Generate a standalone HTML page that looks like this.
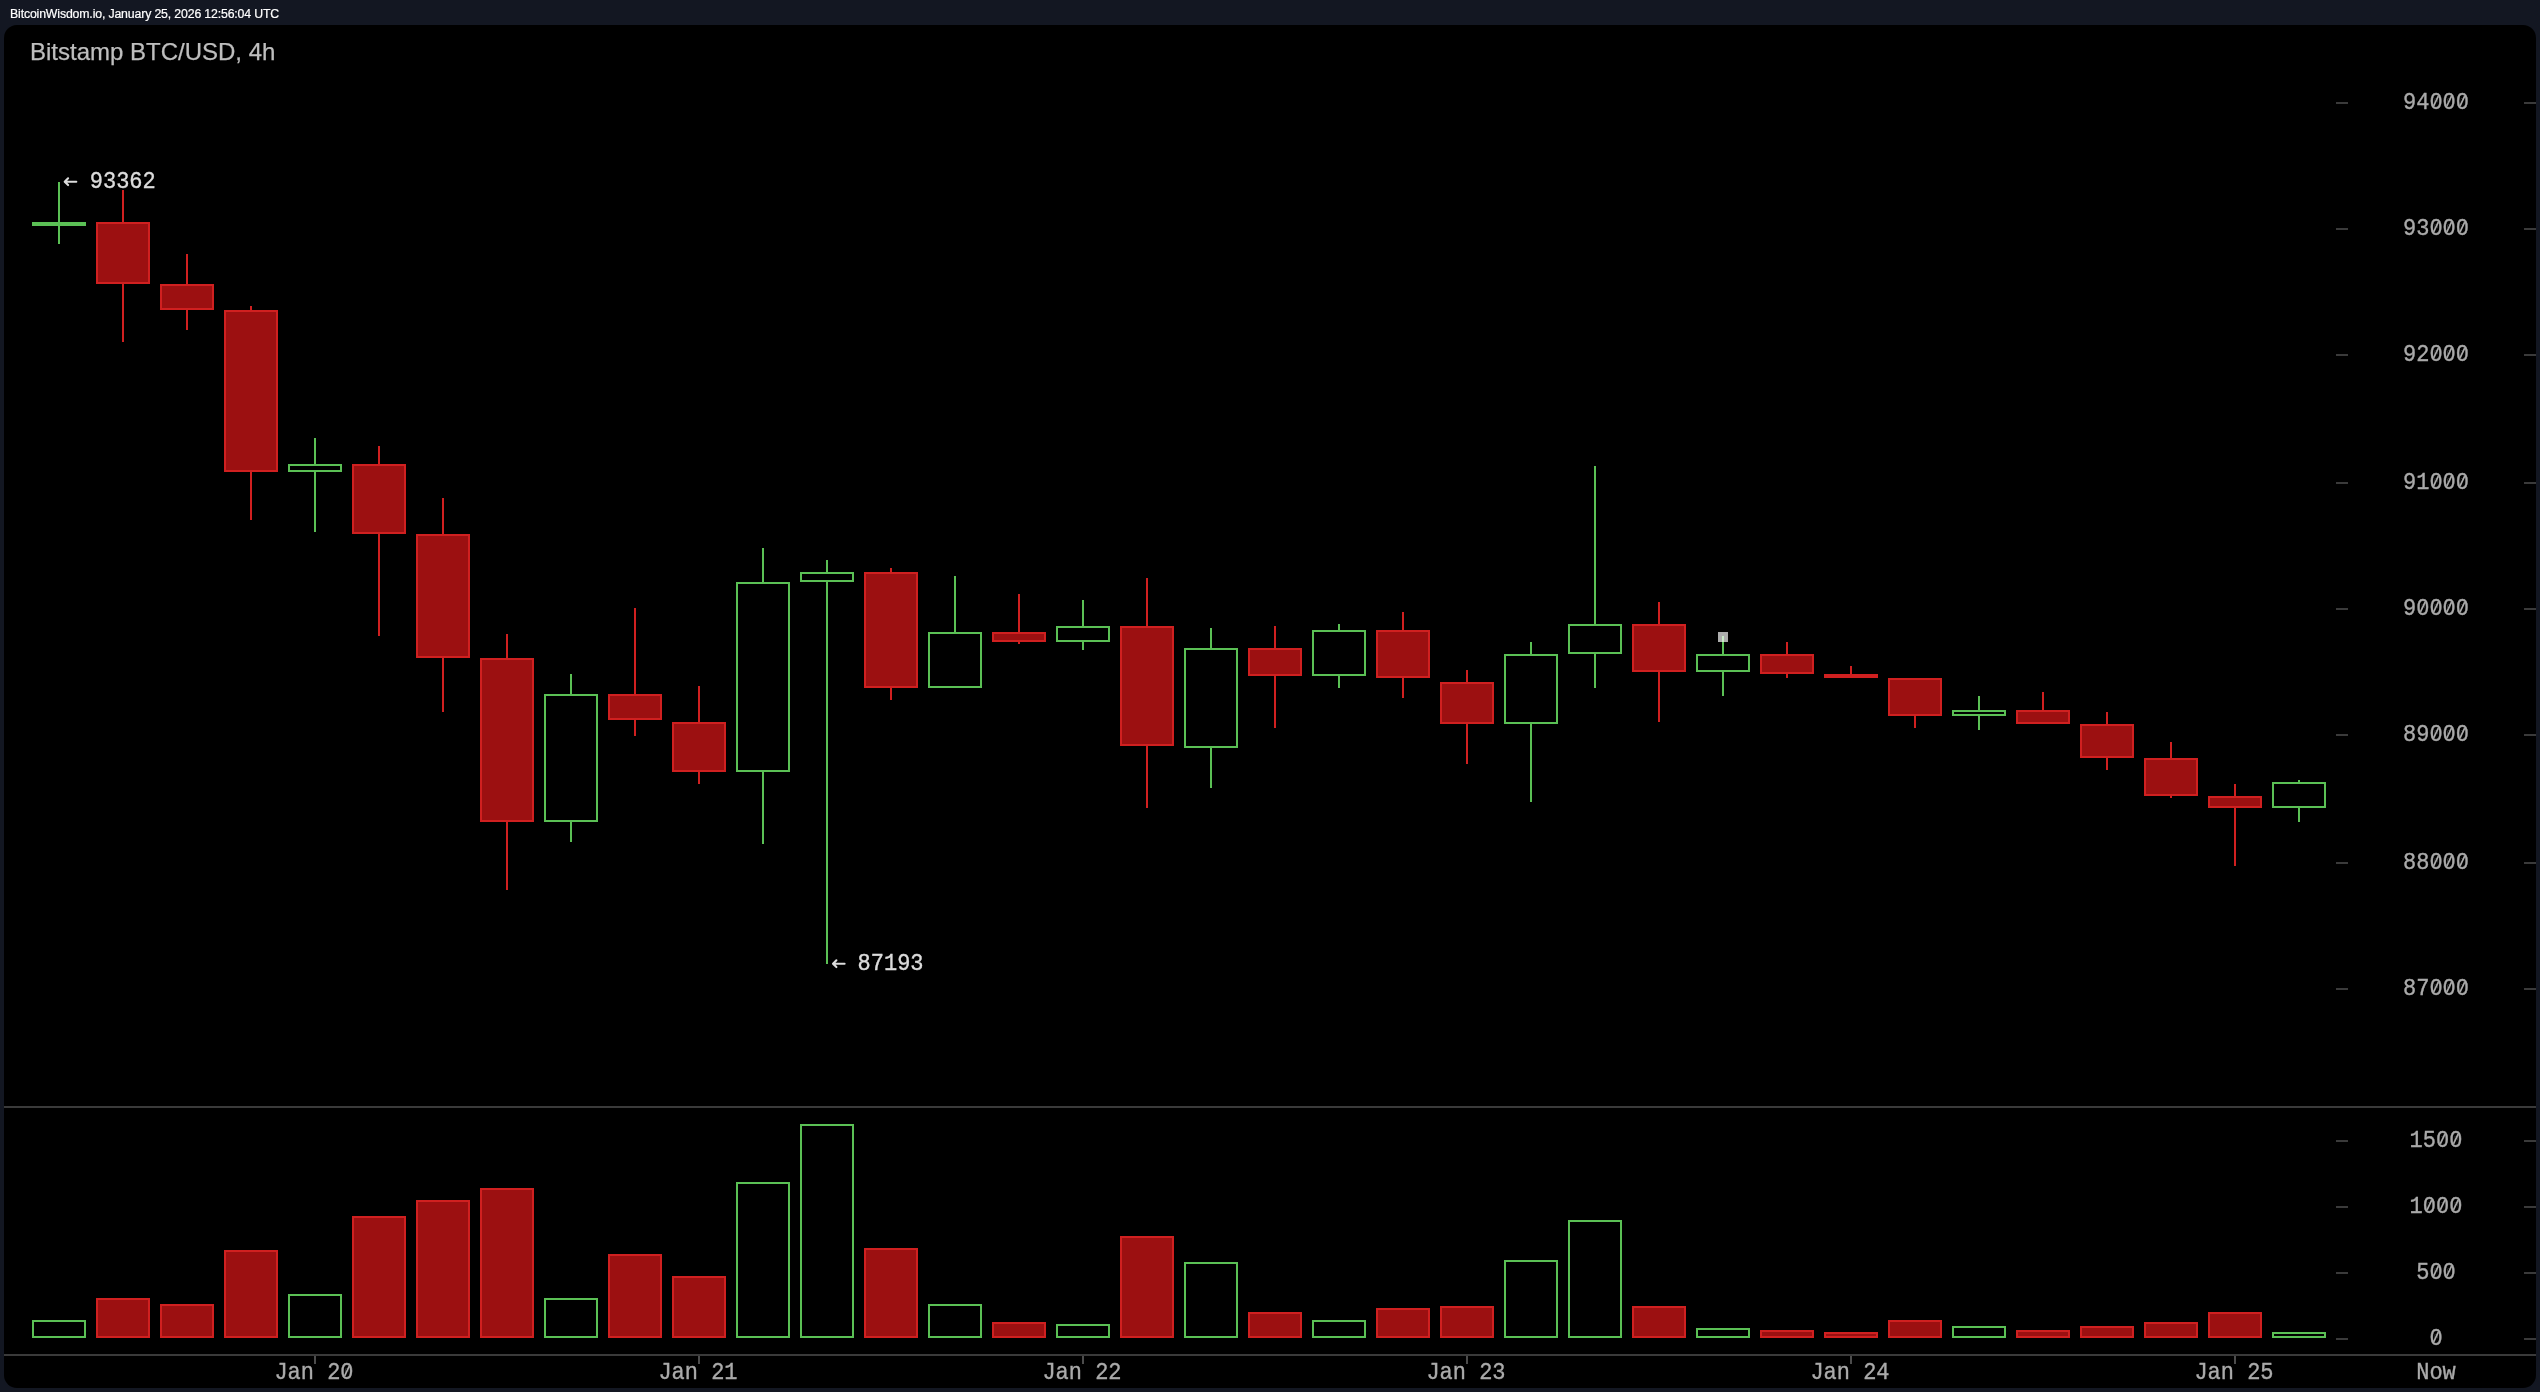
<!DOCTYPE html>
<html><head><meta charset="utf-8"><style>
html,body{margin:0;padding:0;}
body{width:2540px;height:1392px;background:#131722;position:relative;overflow:hidden;font-family:"Liberation Sans",sans-serif;}
#hd{position:absolute;left:10px;top:5.2px;font-size:12.3px;line-height:18px;color:#ffffff;white-space:nowrap;letter-spacing:-0.15px;will-change:transform;-webkit-text-stroke:0.2px #fff;}
#pn{position:absolute;left:4px;top:25px;width:2532px;height:1363px;background:#000000;border-radius:13px;}
svg{position:absolute;left:0;top:0;will-change:transform;}
.mono{font-family:"Liberation Mono",monospace;font-size:22.0px;}
.tt{font-family:"Liberation Sans",sans-serif;font-size:24px;}
</style></head><body>
<div id="hd">BitcoinWisdom.io, January 25, 2026 12:56:04 UTC</div>
<div id="pn"></div>
<svg width="2540" height="1392" viewBox="0 0 2540 1392">
<text x="30" y="60" class="tt" fill="#bebebe" stroke="#bebebe" stroke-width="0.25">Bitstamp BTC/USD, 4h</text>
<g shape-rendering="crispEdges">
<rect x="4" y="1106" width="2532" height="2" fill="#3a3a3a"/>
<rect x="4" y="1354" width="2532" height="2" fill="#3a3a3a"/>
<rect x="2336" y="102" width="12" height="2" fill="#3a3a3a"/><rect x="2524" y="102" width="12" height="2" fill="#3a3a3a"/><rect x="2336" y="228" width="12" height="2" fill="#3a3a3a"/><rect x="2524" y="228" width="12" height="2" fill="#3a3a3a"/><rect x="2336" y="354" width="12" height="2" fill="#3a3a3a"/><rect x="2524" y="354" width="12" height="2" fill="#3a3a3a"/><rect x="2336" y="482" width="12" height="2" fill="#3a3a3a"/><rect x="2524" y="482" width="12" height="2" fill="#3a3a3a"/><rect x="2336" y="608" width="12" height="2" fill="#3a3a3a"/><rect x="2524" y="608" width="12" height="2" fill="#3a3a3a"/><rect x="2336" y="734" width="12" height="2" fill="#3a3a3a"/><rect x="2524" y="734" width="12" height="2" fill="#3a3a3a"/><rect x="2336" y="862" width="12" height="2" fill="#3a3a3a"/><rect x="2524" y="862" width="12" height="2" fill="#3a3a3a"/><rect x="2336" y="988" width="12" height="2" fill="#3a3a3a"/><rect x="2524" y="988" width="12" height="2" fill="#3a3a3a"/><rect x="2336" y="1140" width="12" height="2" fill="#3a3a3a"/><rect x="2524" y="1140" width="12" height="2" fill="#3a3a3a"/><rect x="2336" y="1206" width="12" height="2" fill="#3a3a3a"/><rect x="2524" y="1206" width="12" height="2" fill="#3a3a3a"/><rect x="2336" y="1272" width="12" height="2" fill="#3a3a3a"/><rect x="2524" y="1272" width="12" height="2" fill="#3a3a3a"/><rect x="2336" y="1338" width="12" height="2" fill="#3a3a3a"/><rect x="2524" y="1338" width="12" height="2" fill="#3a3a3a"/>
<rect x="58" y="182" width="2" height="40" fill="#5bc055"/>
<rect x="58" y="226" width="2" height="18" fill="#5bc055"/>
<rect x="32" y="222" width="54" height="4" fill="#5bc055"/>
<rect x="32" y="1320" width="54" height="18" fill="#5bc055"/>
<rect x="34" y="1322" width="50" height="14" fill="#000000"/>
<rect x="122" y="190" width="2" height="32" fill="#d02020"/>
<rect x="122" y="284" width="2" height="58" fill="#d02020"/>
<rect x="96" y="222" width="54" height="62" fill="#d02020"/>
<rect x="98" y="224" width="50" height="58" fill="#9c1011"/>
<rect x="96" y="1298" width="54" height="40" fill="#d02020"/>
<rect x="98" y="1300" width="50" height="36" fill="#9c1011"/>
<rect x="186" y="254" width="2" height="30" fill="#d02020"/>
<rect x="186" y="310" width="2" height="20" fill="#d02020"/>
<rect x="160" y="284" width="54" height="26" fill="#d02020"/>
<rect x="162" y="286" width="50" height="22" fill="#9c1011"/>
<rect x="160" y="1304" width="54" height="34" fill="#d02020"/>
<rect x="162" y="1306" width="50" height="30" fill="#9c1011"/>
<rect x="250" y="306" width="2" height="4" fill="#d02020"/>
<rect x="250" y="472" width="2" height="48" fill="#d02020"/>
<rect x="224" y="310" width="54" height="162" fill="#d02020"/>
<rect x="226" y="312" width="50" height="158" fill="#9c1011"/>
<rect x="224" y="1250" width="54" height="88" fill="#d02020"/>
<rect x="226" y="1252" width="50" height="84" fill="#9c1011"/>
<rect x="314" y="438" width="2" height="26" fill="#5bc055"/>
<rect x="314" y="472" width="2" height="60" fill="#5bc055"/>
<rect x="288" y="464" width="54" height="8" fill="#5bc055"/>
<rect x="290" y="466" width="50" height="4" fill="#000000"/>
<rect x="288" y="1294" width="54" height="44" fill="#5bc055"/>
<rect x="290" y="1296" width="50" height="40" fill="#000000"/>
<rect x="378" y="446" width="2" height="18" fill="#d02020"/>
<rect x="378" y="534" width="2" height="102" fill="#d02020"/>
<rect x="352" y="464" width="54" height="70" fill="#d02020"/>
<rect x="354" y="466" width="50" height="66" fill="#9c1011"/>
<rect x="352" y="1216" width="54" height="122" fill="#d02020"/>
<rect x="354" y="1218" width="50" height="118" fill="#9c1011"/>
<rect x="442" y="498" width="2" height="36" fill="#d02020"/>
<rect x="442" y="658" width="2" height="54" fill="#d02020"/>
<rect x="416" y="534" width="54" height="124" fill="#d02020"/>
<rect x="418" y="536" width="50" height="120" fill="#9c1011"/>
<rect x="416" y="1200" width="54" height="138" fill="#d02020"/>
<rect x="418" y="1202" width="50" height="134" fill="#9c1011"/>
<rect x="506" y="634" width="2" height="24" fill="#d02020"/>
<rect x="506" y="822" width="2" height="68" fill="#d02020"/>
<rect x="480" y="658" width="54" height="164" fill="#d02020"/>
<rect x="482" y="660" width="50" height="160" fill="#9c1011"/>
<rect x="480" y="1188" width="54" height="150" fill="#d02020"/>
<rect x="482" y="1190" width="50" height="146" fill="#9c1011"/>
<rect x="570" y="674" width="2" height="20" fill="#5bc055"/>
<rect x="570" y="822" width="2" height="20" fill="#5bc055"/>
<rect x="544" y="694" width="54" height="128" fill="#5bc055"/>
<rect x="546" y="696" width="50" height="124" fill="#000000"/>
<rect x="544" y="1298" width="54" height="40" fill="#5bc055"/>
<rect x="546" y="1300" width="50" height="36" fill="#000000"/>
<rect x="634" y="608" width="2" height="86" fill="#d02020"/>
<rect x="634" y="720" width="2" height="16" fill="#d02020"/>
<rect x="608" y="694" width="54" height="26" fill="#d02020"/>
<rect x="610" y="696" width="50" height="22" fill="#9c1011"/>
<rect x="608" y="1254" width="54" height="84" fill="#d02020"/>
<rect x="610" y="1256" width="50" height="80" fill="#9c1011"/>
<rect x="698" y="686" width="2" height="36" fill="#d02020"/>
<rect x="698" y="772" width="2" height="12" fill="#d02020"/>
<rect x="672" y="722" width="54" height="50" fill="#d02020"/>
<rect x="674" y="724" width="50" height="46" fill="#9c1011"/>
<rect x="672" y="1276" width="54" height="62" fill="#d02020"/>
<rect x="674" y="1278" width="50" height="58" fill="#9c1011"/>
<rect x="762" y="548" width="2" height="34" fill="#5bc055"/>
<rect x="762" y="772" width="2" height="72" fill="#5bc055"/>
<rect x="736" y="582" width="54" height="190" fill="#5bc055"/>
<rect x="738" y="584" width="50" height="186" fill="#000000"/>
<rect x="736" y="1182" width="54" height="156" fill="#5bc055"/>
<rect x="738" y="1184" width="50" height="152" fill="#000000"/>
<rect x="826" y="560" width="2" height="12" fill="#5bc055"/>
<rect x="826" y="582" width="2" height="382" fill="#5bc055"/>
<rect x="800" y="572" width="54" height="10" fill="#5bc055"/>
<rect x="802" y="574" width="50" height="6" fill="#000000"/>
<rect x="800" y="1124" width="54" height="214" fill="#5bc055"/>
<rect x="802" y="1126" width="50" height="210" fill="#000000"/>
<rect x="890" y="568" width="2" height="4" fill="#d02020"/>
<rect x="890" y="688" width="2" height="12" fill="#d02020"/>
<rect x="864" y="572" width="54" height="116" fill="#d02020"/>
<rect x="866" y="574" width="50" height="112" fill="#9c1011"/>
<rect x="864" y="1248" width="54" height="90" fill="#d02020"/>
<rect x="866" y="1250" width="50" height="86" fill="#9c1011"/>
<rect x="954" y="576" width="2" height="56" fill="#5bc055"/>
<rect x="928" y="632" width="54" height="56" fill="#5bc055"/>
<rect x="930" y="634" width="50" height="52" fill="#000000"/>
<rect x="928" y="1304" width="54" height="34" fill="#5bc055"/>
<rect x="930" y="1306" width="50" height="30" fill="#000000"/>
<rect x="1018" y="594" width="2" height="38" fill="#d02020"/>
<rect x="1018" y="642" width="2" height="2" fill="#d02020"/>
<rect x="992" y="632" width="54" height="10" fill="#d02020"/>
<rect x="994" y="634" width="50" height="6" fill="#9c1011"/>
<rect x="992" y="1322" width="54" height="16" fill="#d02020"/>
<rect x="994" y="1324" width="50" height="12" fill="#9c1011"/>
<rect x="1082" y="600" width="2" height="26" fill="#5bc055"/>
<rect x="1082" y="642" width="2" height="8" fill="#5bc055"/>
<rect x="1056" y="626" width="54" height="16" fill="#5bc055"/>
<rect x="1058" y="628" width="50" height="12" fill="#000000"/>
<rect x="1056" y="1324" width="54" height="14" fill="#5bc055"/>
<rect x="1058" y="1326" width="50" height="10" fill="#000000"/>
<rect x="1146" y="578" width="2" height="48" fill="#d02020"/>
<rect x="1146" y="746" width="2" height="62" fill="#d02020"/>
<rect x="1120" y="626" width="54" height="120" fill="#d02020"/>
<rect x="1122" y="628" width="50" height="116" fill="#9c1011"/>
<rect x="1120" y="1236" width="54" height="102" fill="#d02020"/>
<rect x="1122" y="1238" width="50" height="98" fill="#9c1011"/>
<rect x="1210" y="628" width="2" height="20" fill="#5bc055"/>
<rect x="1210" y="748" width="2" height="40" fill="#5bc055"/>
<rect x="1184" y="648" width="54" height="100" fill="#5bc055"/>
<rect x="1186" y="650" width="50" height="96" fill="#000000"/>
<rect x="1184" y="1262" width="54" height="76" fill="#5bc055"/>
<rect x="1186" y="1264" width="50" height="72" fill="#000000"/>
<rect x="1274" y="626" width="2" height="22" fill="#d02020"/>
<rect x="1274" y="676" width="2" height="52" fill="#d02020"/>
<rect x="1248" y="648" width="54" height="28" fill="#d02020"/>
<rect x="1250" y="650" width="50" height="24" fill="#9c1011"/>
<rect x="1248" y="1312" width="54" height="26" fill="#d02020"/>
<rect x="1250" y="1314" width="50" height="22" fill="#9c1011"/>
<rect x="1338" y="624" width="2" height="6" fill="#5bc055"/>
<rect x="1338" y="676" width="2" height="12" fill="#5bc055"/>
<rect x="1312" y="630" width="54" height="46" fill="#5bc055"/>
<rect x="1314" y="632" width="50" height="42" fill="#000000"/>
<rect x="1312" y="1320" width="54" height="18" fill="#5bc055"/>
<rect x="1314" y="1322" width="50" height="14" fill="#000000"/>
<rect x="1402" y="612" width="2" height="18" fill="#d02020"/>
<rect x="1402" y="678" width="2" height="20" fill="#d02020"/>
<rect x="1376" y="630" width="54" height="48" fill="#d02020"/>
<rect x="1378" y="632" width="50" height="44" fill="#9c1011"/>
<rect x="1376" y="1308" width="54" height="30" fill="#d02020"/>
<rect x="1378" y="1310" width="50" height="26" fill="#9c1011"/>
<rect x="1466" y="670" width="2" height="12" fill="#d02020"/>
<rect x="1466" y="724" width="2" height="40" fill="#d02020"/>
<rect x="1440" y="682" width="54" height="42" fill="#d02020"/>
<rect x="1442" y="684" width="50" height="38" fill="#9c1011"/>
<rect x="1440" y="1306" width="54" height="32" fill="#d02020"/>
<rect x="1442" y="1308" width="50" height="28" fill="#9c1011"/>
<rect x="1530" y="642" width="2" height="12" fill="#5bc055"/>
<rect x="1530" y="724" width="2" height="78" fill="#5bc055"/>
<rect x="1504" y="654" width="54" height="70" fill="#5bc055"/>
<rect x="1506" y="656" width="50" height="66" fill="#000000"/>
<rect x="1504" y="1260" width="54" height="78" fill="#5bc055"/>
<rect x="1506" y="1262" width="50" height="74" fill="#000000"/>
<rect x="1594" y="466" width="2" height="158" fill="#5bc055"/>
<rect x="1594" y="654" width="2" height="34" fill="#5bc055"/>
<rect x="1568" y="624" width="54" height="30" fill="#5bc055"/>
<rect x="1570" y="626" width="50" height="26" fill="#000000"/>
<rect x="1568" y="1220" width="54" height="118" fill="#5bc055"/>
<rect x="1570" y="1222" width="50" height="114" fill="#000000"/>
<rect x="1658" y="602" width="2" height="22" fill="#d02020"/>
<rect x="1658" y="672" width="2" height="50" fill="#d02020"/>
<rect x="1632" y="624" width="54" height="48" fill="#d02020"/>
<rect x="1634" y="626" width="50" height="44" fill="#9c1011"/>
<rect x="1632" y="1306" width="54" height="32" fill="#d02020"/>
<rect x="1634" y="1308" width="50" height="28" fill="#9c1011"/>
<rect x="1722" y="636" width="2" height="18" fill="#5bc055"/>
<rect x="1722" y="672" width="2" height="24" fill="#5bc055"/>
<rect x="1696" y="654" width="54" height="18" fill="#5bc055"/>
<rect x="1698" y="656" width="50" height="14" fill="#000000"/>
<rect x="1696" y="1328" width="54" height="10" fill="#5bc055"/>
<rect x="1698" y="1330" width="50" height="6" fill="#000000"/>
<rect x="1786" y="642" width="2" height="12" fill="#d02020"/>
<rect x="1786" y="674" width="2" height="4" fill="#d02020"/>
<rect x="1760" y="654" width="54" height="20" fill="#d02020"/>
<rect x="1762" y="656" width="50" height="16" fill="#9c1011"/>
<rect x="1760" y="1330" width="54" height="8" fill="#d02020"/>
<rect x="1762" y="1332" width="50" height="4" fill="#9c1011"/>
<rect x="1850" y="666" width="2" height="8" fill="#d02020"/>
<rect x="1824" y="674" width="54" height="4" fill="#d02020"/>
<rect x="1824" y="1332" width="54" height="6" fill="#d02020"/>
<rect x="1826" y="1334" width="50" height="2" fill="#9c1011"/>
<rect x="1914" y="716" width="2" height="12" fill="#d02020"/>
<rect x="1888" y="678" width="54" height="38" fill="#d02020"/>
<rect x="1890" y="680" width="50" height="34" fill="#9c1011"/>
<rect x="1888" y="1320" width="54" height="18" fill="#d02020"/>
<rect x="1890" y="1322" width="50" height="14" fill="#9c1011"/>
<rect x="1978" y="696" width="2" height="14" fill="#5bc055"/>
<rect x="1978" y="716" width="2" height="14" fill="#5bc055"/>
<rect x="1952" y="710" width="54" height="6" fill="#5bc055"/>
<rect x="1954" y="712" width="50" height="2" fill="#000000"/>
<rect x="1952" y="1326" width="54" height="12" fill="#5bc055"/>
<rect x="1954" y="1328" width="50" height="8" fill="#000000"/>
<rect x="2042" y="692" width="2" height="18" fill="#d02020"/>
<rect x="2016" y="710" width="54" height="14" fill="#d02020"/>
<rect x="2018" y="712" width="50" height="10" fill="#9c1011"/>
<rect x="2016" y="1330" width="54" height="8" fill="#d02020"/>
<rect x="2018" y="1332" width="50" height="4" fill="#9c1011"/>
<rect x="2106" y="712" width="2" height="12" fill="#d02020"/>
<rect x="2106" y="758" width="2" height="12" fill="#d02020"/>
<rect x="2080" y="724" width="54" height="34" fill="#d02020"/>
<rect x="2082" y="726" width="50" height="30" fill="#9c1011"/>
<rect x="2080" y="1326" width="54" height="12" fill="#d02020"/>
<rect x="2082" y="1328" width="50" height="8" fill="#9c1011"/>
<rect x="2170" y="742" width="2" height="16" fill="#d02020"/>
<rect x="2170" y="796" width="2" height="2" fill="#d02020"/>
<rect x="2144" y="758" width="54" height="38" fill="#d02020"/>
<rect x="2146" y="760" width="50" height="34" fill="#9c1011"/>
<rect x="2144" y="1322" width="54" height="16" fill="#d02020"/>
<rect x="2146" y="1324" width="50" height="12" fill="#9c1011"/>
<rect x="2234" y="784" width="2" height="12" fill="#d02020"/>
<rect x="2234" y="808" width="2" height="58" fill="#d02020"/>
<rect x="2208" y="796" width="54" height="12" fill="#d02020"/>
<rect x="2210" y="798" width="50" height="8" fill="#9c1011"/>
<rect x="2208" y="1312" width="54" height="26" fill="#d02020"/>
<rect x="2210" y="1314" width="50" height="22" fill="#9c1011"/>
<rect x="2298" y="780" width="2" height="2" fill="#5bc055"/>
<rect x="2298" y="808" width="2" height="14" fill="#5bc055"/>
<rect x="2272" y="782" width="54" height="26" fill="#5bc055"/>
<rect x="2274" y="784" width="50" height="22" fill="#000000"/>
<rect x="2272" y="1332" width="54" height="6" fill="#5bc055"/>
<rect x="2274" y="1334" width="50" height="2" fill="#000000"/>
</g>
<text transform="translate(2402.99,109.00) scale(1,1.1)" x="0" y="0" fill="#aaaaaa" stroke="#aaaaaa" stroke-width="0.35" class="mono">94000</text><rect x="2434.39" y="98.82" width="3.2" height="4.4" fill="#000"/><line x1="2433.69" y1="105.92" x2="2438.29" y2="96.12" stroke="#aaaaaa" stroke-width="1.7"/><rect x="2447.59" y="98.82" width="3.2" height="4.4" fill="#000"/><line x1="2446.89" y1="105.92" x2="2451.49" y2="96.12" stroke="#aaaaaa" stroke-width="1.7"/><rect x="2460.79" y="98.82" width="3.2" height="4.4" fill="#000"/><line x1="2460.09" y1="105.92" x2="2464.69" y2="96.12" stroke="#aaaaaa" stroke-width="1.7"/><text transform="translate(2402.99,235.00) scale(1,1.1)" x="0" y="0" fill="#aaaaaa" stroke="#aaaaaa" stroke-width="0.35" class="mono">93000</text><rect x="2434.39" y="224.82" width="3.2" height="4.4" fill="#000"/><line x1="2433.69" y1="231.92" x2="2438.29" y2="222.12" stroke="#aaaaaa" stroke-width="1.7"/><rect x="2447.59" y="224.82" width="3.2" height="4.4" fill="#000"/><line x1="2446.89" y1="231.92" x2="2451.49" y2="222.12" stroke="#aaaaaa" stroke-width="1.7"/><rect x="2460.79" y="224.82" width="3.2" height="4.4" fill="#000"/><line x1="2460.09" y1="231.92" x2="2464.69" y2="222.12" stroke="#aaaaaa" stroke-width="1.7"/><text transform="translate(2402.99,361.00) scale(1,1.1)" x="0" y="0" fill="#aaaaaa" stroke="#aaaaaa" stroke-width="0.35" class="mono">92000</text><rect x="2434.39" y="350.82" width="3.2" height="4.4" fill="#000"/><line x1="2433.69" y1="357.92" x2="2438.29" y2="348.12" stroke="#aaaaaa" stroke-width="1.7"/><rect x="2447.59" y="350.82" width="3.2" height="4.4" fill="#000"/><line x1="2446.89" y1="357.92" x2="2451.49" y2="348.12" stroke="#aaaaaa" stroke-width="1.7"/><rect x="2460.79" y="350.82" width="3.2" height="4.4" fill="#000"/><line x1="2460.09" y1="357.92" x2="2464.69" y2="348.12" stroke="#aaaaaa" stroke-width="1.7"/><text transform="translate(2402.99,489.00) scale(1,1.1)" x="0" y="0" fill="#aaaaaa" stroke="#aaaaaa" stroke-width="0.35" class="mono">91000</text><rect x="2434.39" y="478.82" width="3.2" height="4.4" fill="#000"/><line x1="2433.69" y1="485.92" x2="2438.29" y2="476.12" stroke="#aaaaaa" stroke-width="1.7"/><rect x="2447.59" y="478.82" width="3.2" height="4.4" fill="#000"/><line x1="2446.89" y1="485.92" x2="2451.49" y2="476.12" stroke="#aaaaaa" stroke-width="1.7"/><rect x="2460.79" y="478.82" width="3.2" height="4.4" fill="#000"/><line x1="2460.09" y1="485.92" x2="2464.69" y2="476.12" stroke="#aaaaaa" stroke-width="1.7"/><text transform="translate(2402.99,615.00) scale(1,1.1)" x="0" y="0" fill="#aaaaaa" stroke="#aaaaaa" stroke-width="0.35" class="mono">90000</text><rect x="2421.19" y="604.82" width="3.2" height="4.4" fill="#000"/><line x1="2420.49" y1="611.92" x2="2425.09" y2="602.12" stroke="#aaaaaa" stroke-width="1.7"/><rect x="2434.39" y="604.82" width="3.2" height="4.4" fill="#000"/><line x1="2433.69" y1="611.92" x2="2438.29" y2="602.12" stroke="#aaaaaa" stroke-width="1.7"/><rect x="2447.59" y="604.82" width="3.2" height="4.4" fill="#000"/><line x1="2446.89" y1="611.92" x2="2451.49" y2="602.12" stroke="#aaaaaa" stroke-width="1.7"/><rect x="2460.79" y="604.82" width="3.2" height="4.4" fill="#000"/><line x1="2460.09" y1="611.92" x2="2464.69" y2="602.12" stroke="#aaaaaa" stroke-width="1.7"/><text transform="translate(2402.99,741.00) scale(1,1.1)" x="0" y="0" fill="#aaaaaa" stroke="#aaaaaa" stroke-width="0.35" class="mono">89000</text><rect x="2434.39" y="730.82" width="3.2" height="4.4" fill="#000"/><line x1="2433.69" y1="737.92" x2="2438.29" y2="728.12" stroke="#aaaaaa" stroke-width="1.7"/><rect x="2447.59" y="730.82" width="3.2" height="4.4" fill="#000"/><line x1="2446.89" y1="737.92" x2="2451.49" y2="728.12" stroke="#aaaaaa" stroke-width="1.7"/><rect x="2460.79" y="730.82" width="3.2" height="4.4" fill="#000"/><line x1="2460.09" y1="737.92" x2="2464.69" y2="728.12" stroke="#aaaaaa" stroke-width="1.7"/><text transform="translate(2402.99,869.00) scale(1,1.1)" x="0" y="0" fill="#aaaaaa" stroke="#aaaaaa" stroke-width="0.35" class="mono">88000</text><rect x="2434.39" y="858.82" width="3.2" height="4.4" fill="#000"/><line x1="2433.69" y1="865.92" x2="2438.29" y2="856.12" stroke="#aaaaaa" stroke-width="1.7"/><rect x="2447.59" y="858.82" width="3.2" height="4.4" fill="#000"/><line x1="2446.89" y1="865.92" x2="2451.49" y2="856.12" stroke="#aaaaaa" stroke-width="1.7"/><rect x="2460.79" y="858.82" width="3.2" height="4.4" fill="#000"/><line x1="2460.09" y1="865.92" x2="2464.69" y2="856.12" stroke="#aaaaaa" stroke-width="1.7"/><text transform="translate(2402.99,995.00) scale(1,1.1)" x="0" y="0" fill="#aaaaaa" stroke="#aaaaaa" stroke-width="0.35" class="mono">87000</text><rect x="2434.39" y="984.82" width="3.2" height="4.4" fill="#000"/><line x1="2433.69" y1="991.92" x2="2438.29" y2="982.12" stroke="#aaaaaa" stroke-width="1.7"/><rect x="2447.59" y="984.82" width="3.2" height="4.4" fill="#000"/><line x1="2446.89" y1="991.92" x2="2451.49" y2="982.12" stroke="#aaaaaa" stroke-width="1.7"/><rect x="2460.79" y="984.82" width="3.2" height="4.4" fill="#000"/><line x1="2460.09" y1="991.92" x2="2464.69" y2="982.12" stroke="#aaaaaa" stroke-width="1.7"/><text transform="translate(2409.60,1147.00) scale(1,1.1)" x="0" y="0" fill="#aaaaaa" stroke="#aaaaaa" stroke-width="0.35" class="mono">1500</text><rect x="2440.99" y="1136.82" width="3.2" height="4.4" fill="#000"/><line x1="2440.29" y1="1143.92" x2="2444.89" y2="1134.12" stroke="#aaaaaa" stroke-width="1.7"/><rect x="2454.19" y="1136.82" width="3.2" height="4.4" fill="#000"/><line x1="2453.49" y1="1143.92" x2="2458.09" y2="1134.12" stroke="#aaaaaa" stroke-width="1.7"/><text transform="translate(2409.60,1213.00) scale(1,1.1)" x="0" y="0" fill="#aaaaaa" stroke="#aaaaaa" stroke-width="0.35" class="mono">1000</text><rect x="2427.79" y="1202.82" width="3.2" height="4.4" fill="#000"/><line x1="2427.09" y1="1209.92" x2="2431.69" y2="1200.12" stroke="#aaaaaa" stroke-width="1.7"/><rect x="2440.99" y="1202.82" width="3.2" height="4.4" fill="#000"/><line x1="2440.29" y1="1209.92" x2="2444.89" y2="1200.12" stroke="#aaaaaa" stroke-width="1.7"/><rect x="2454.19" y="1202.82" width="3.2" height="4.4" fill="#000"/><line x1="2453.49" y1="1209.92" x2="2458.09" y2="1200.12" stroke="#aaaaaa" stroke-width="1.7"/><text transform="translate(2416.20,1279.00) scale(1,1.1)" x="0" y="0" fill="#aaaaaa" stroke="#aaaaaa" stroke-width="0.35" class="mono">500</text><rect x="2434.39" y="1268.82" width="3.2" height="4.4" fill="#000"/><line x1="2433.69" y1="1275.92" x2="2438.29" y2="1266.12" stroke="#aaaaaa" stroke-width="1.7"/><rect x="2447.59" y="1268.82" width="3.2" height="4.4" fill="#000"/><line x1="2446.89" y1="1275.92" x2="2451.49" y2="1266.12" stroke="#aaaaaa" stroke-width="1.7"/><text transform="translate(2429.40,1345.00) scale(1,1.1)" x="0" y="0" fill="#aaaaaa" stroke="#aaaaaa" stroke-width="0.35" class="mono">0</text><rect x="2434.39" y="1334.82" width="3.2" height="4.4" fill="#000"/><line x1="2433.69" y1="1341.92" x2="2438.29" y2="1332.12" stroke="#aaaaaa" stroke-width="1.7"/>
<rect x="314" y="1356" width="2" height="8" fill="#4c4c4c"/><text transform="translate(274.39,1379.00) scale(1,1.1)" x="0" y="0" fill="#aaaaaa" stroke="#aaaaaa" stroke-width="0.35" class="mono">Jan 20</text><rect x="345.39" y="1368.82" width="3.2" height="4.4" fill="#000"/><line x1="344.69" y1="1375.92" x2="349.29" y2="1366.12" stroke="#aaaaaa" stroke-width="1.7"/><rect x="698" y="1356" width="2" height="8" fill="#4c4c4c"/><text transform="translate(658.39,1379.00) scale(1,1.1)" x="0" y="0" fill="#aaaaaa" stroke="#aaaaaa" stroke-width="0.35" class="mono">Jan 21</text><rect x="1082" y="1356" width="2" height="8" fill="#4c4c4c"/><text transform="translate(1042.39,1379.00) scale(1,1.1)" x="0" y="0" fill="#aaaaaa" stroke="#aaaaaa" stroke-width="0.35" class="mono">Jan 22</text><rect x="1466" y="1356" width="2" height="8" fill="#4c4c4c"/><text transform="translate(1426.39,1379.00) scale(1,1.1)" x="0" y="0" fill="#aaaaaa" stroke="#aaaaaa" stroke-width="0.35" class="mono">Jan 23</text><rect x="1850" y="1356" width="2" height="8" fill="#4c4c4c"/><text transform="translate(1810.39,1379.00) scale(1,1.1)" x="0" y="0" fill="#aaaaaa" stroke="#aaaaaa" stroke-width="0.35" class="mono">Jan 24</text><rect x="2234" y="1356" width="2" height="8" fill="#4c4c4c"/><text transform="translate(2194.39,1379.00) scale(1,1.1)" x="0" y="0" fill="#aaaaaa" stroke="#aaaaaa" stroke-width="0.35" class="mono">Jan 25</text><text transform="translate(2416.20,1379.00) scale(1,1.1)" x="0" y="0" fill="#aaaaaa" stroke="#aaaaaa" stroke-width="0.35" class="mono">Now</text>
<rect x="1718" y="632" width="10" height="10" fill="#ffffff" fill-opacity="0.68" shape-rendering="crispEdges"/>
<path d="M76.3 181.7 H65.0 M68.1 178.3 L64.7 181.7 L68.1 185.1" fill="none" stroke="#dcdcdc" stroke-width="2.1" stroke-linecap="round" stroke-linejoin="round"/><text transform="translate(89.79,188.20) scale(1,1.1)" x="0" y="0" fill="#dcdcdc" stroke="#dcdcdc" stroke-width="0.35" class="mono">93362</text><path d="M844.6 963.7 H833.3 M836.4 960.3 L833.0 963.7 L836.4 967.1" fill="none" stroke="#dcdcdc" stroke-width="2.1" stroke-linecap="round" stroke-linejoin="round"/><text transform="translate(857.57,970.20) scale(1,1.1)" x="0" y="0" fill="#dcdcdc" stroke="#dcdcdc" stroke-width="0.35" class="mono">87193</text>
</svg>
</body></html>
